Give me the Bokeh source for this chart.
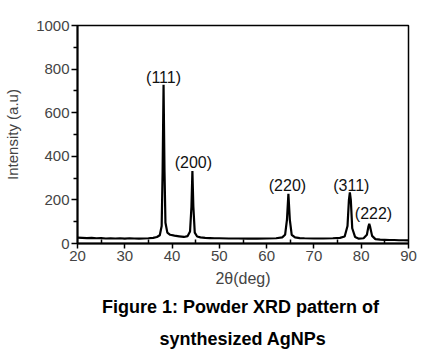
from bokeh.plotting import figure
from bokeh.models import Label, Range1d, FixedTicker, Title
from bokeh.embed import file_html
from bokeh.resources import INLINE

# ---- data ----
two_theta = [20, 21, 22, 23, 24, 25, 26, 27, 28, 29, 30, 31, 32, 33, 34, 35, 36,
             36.8, 37.4, 37.8, 38.0, 38.2, 38.4, 38.6, 39.0, 39.6, 40.5, 41.5, 42.5,
             43.3, 43.8, 44.1, 44.3, 44.5, 44.8, 45.3, 46, 47, 48, 49, 50, 52, 54,
             56, 58, 60, 62, 63.3, 63.9, 64.3, 64.6, 64.9, 65.3, 66, 67, 68, 70, 72,
             74, 75.5, 76.5, 77.1, 77.4, 77.6, 77.8, 78.1, 78.7, 79.5, 80.5, 81.2,
             81.5, 81.7, 81.9, 82.3, 83, 84, 85, 86, 87, 88, 89, 90]
intensity = [27, 26, 25, 26, 24, 25, 23, 24, 23, 24, 22, 24, 23, 22, 23, 24, 26,
             30, 38, 80, 330, 728, 330, 95, 50, 40, 36, 33, 30,
             34, 55, 170, 332, 170, 50, 32, 28, 26, 25, 24, 24, 23, 23,
             22, 22, 23, 24, 28, 40, 110, 228, 110, 40, 28, 25, 24, 23, 23,
             24, 26, 32, 80, 200, 235, 200, 70, 30, 22, 24, 40,
             75, 90, 75, 35, 20, 18, 17, 16, 16, 15, 15, 14]

peak_labels = ["(111)", "(200)", "(220)", "(311)", "(222)"]
peak_label_x = [38.2, 44.5, 64.4, 77.9, 82.6]
peak_label_y = [763, 372, 266, 266, 137]

x_ticks = [20, 30, 40, 50, 60, 70, 80, 90]
y_ticks = [0, 200, 400, 600, 800, 1000]

caption_lines = ["Figure 1: Powder XRD  pattern of", "synthesized AgNPs"]

FONT = "Liberation Sans"

p = figure(width=445, height=356, output_backend="svg", toolbar_location=None,
           x_range=Range1d(20, 90), y_range=Range1d(0, 1000),
           min_border_left=77, min_border_right=37, min_border_top=25,
           min_border_bottom=113)
p.grid.visible = False
p.background_fill_color = "white"
p.border_fill_color = "white"
p.outline_line_color = "black"
p.outline_line_width = 1.5

p.line(two_theta, intensity, line_color="black", line_width=2.2)

for t, x, y in zip(peak_labels, peak_label_x, peak_label_y):
    p.add_layout(Label(x=x, y=y, text=t, text_align="center", text_baseline="middle",
                       text_font=FONT, text_font_size="16px", text_color="#111111"))

# x axis
xa = p.xaxis[0]
xa.ticker = FixedTicker(ticks=x_ticks, minor_ticks=[25, 35, 45, 55, 65, 75, 85])
xa.axis_label = "2θ(deg)"
xa.axis_label_text_font = FONT
xa.axis_label_text_font_style = "normal"
xa.axis_label_text_font_size = "16px"
xa.axis_label_standoff = 6
xa.major_label_text_font = FONT
xa.major_label_text_font_size = "15px"
xa.major_label_standoff = 2
xa.axis_line_width = 2
xa.major_tick_out = 5
xa.major_tick_in = 0
xa.minor_tick_in = 4
xa.minor_tick_out = 0
xa.major_tick_line_width = 1.5
xa.minor_tick_line_width = 1.5

# y axis
ya = p.yaxis[0]
ya.ticker = FixedTicker(ticks=y_ticks, minor_ticks=[100, 300, 500, 700, 900])
ya.axis_label = "Intensity (a.u)"
ya.axis_label_text_font = FONT
ya.axis_label_text_font_style = "normal"
ya.axis_label_text_font_size = "15px"
ya.axis_label_standoff = 12
ya.major_label_text_font = FONT
ya.major_label_text_font_size = "15px"
ya.major_label_standoff = 2
ya.axis_line_width = 2
ya.major_tick_out = 6
ya.major_tick_in = 0
ya.minor_tick_out = 4
ya.minor_tick_in = 0
ya.major_tick_line_width = 1.5
ya.minor_tick_line_width = 1.5

# caption below the chart
for i, line in enumerate(caption_lines):
    p.add_layout(Title(text=line, align="center", text_font=FONT,
                       text_font_style="bold", text_font_size="18px",
                       text_color="black", standoff=11 if i == 0 else 8), "below")

open("out.html", "w").write(file_html(p, INLINE))
